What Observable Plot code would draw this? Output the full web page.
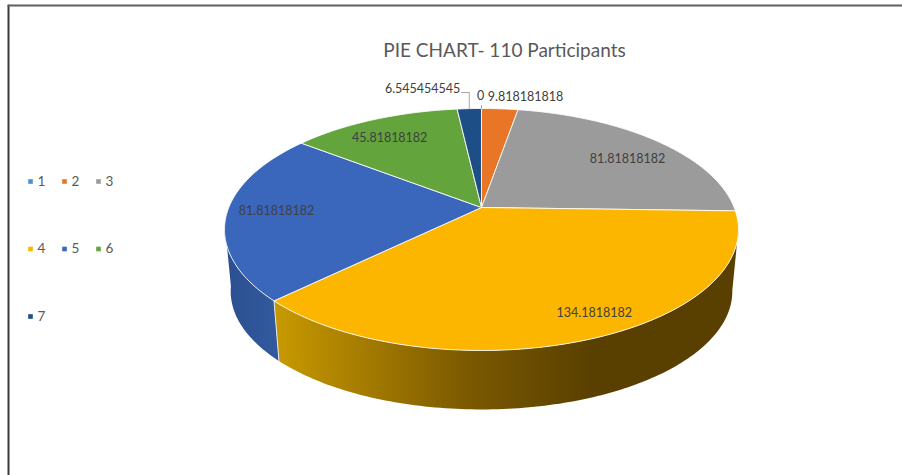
<!DOCTYPE html>
<html>
<head>
<meta charset="utf-8">
<script src="https://cdn.jsdelivr.net/npm/d3@7"></script>
<script src="https://cdn.jsdelivr.net/npm/@observablehq/plot@0.6"></script>
<style>html,body{margin:0;padding:0;background:#fff}svg{display:block}</style>
</head>
<body>
<div id="chart"></div>
<script>
// Data
const categories = ["1", "2", "3", "4", "5", "6", "7"];
const values = [0, 9.818181818, 81.81818182, 134.1818182, 81.81818182, 45.81818182, 6.545454545];
const labels = ["0", "9.818181818", "81.81818182", "134.1818182", "81.81818182", "45.81818182", "6.545454545"];
const colors = ["#4a90d0", "#e97527", "#9b9b9b", "#fdb600", "#3a66bb", "#63a43d", "#1d4e85"];
const labelAngle = [359.8, 10.4, 54.6, 153.6, 267.6, 328.7, 347.1];
const labelRadius = [1.147, 1.165, 0.766, 0.862, 0.807, 0.785, 1.28];
const titleText = "PIE CHART- 110 Participants";

// Perspective model of the disc
const cx = 481, cy = 207, A = 252.7, B = 117, k = 0.1818, drop = 62.4, shrink = 0.976;
const sideFrom = 100, sideTo = 262; // the part of the rim that faces the viewer
const project = (deg, r = 1, bottom = false) => {
  const t = deg * Math.PI / 180;
  const w = 1 + k * r * Math.cos(t);
  const s = bottom ? shrink : 1;
  return {
    x: cx + s * A * r * Math.sin(t) / w,
    y: cy + (bottom ? drop : 0) - s * B * r * Math.cos(t) / w
  };
};

// Slices from the values, clockwise from twelve o'clock
const total = d3.sum(values);
let acc = 0;
const slices = categories.map((c, i) => {
  const start = acc / total * 360;
  acc += values[i];
  return {c, i, start, end: acc / total * 360, color: colors[i], label: labels[i]};
});
const arc = (s, e, r, bottom) => {
  const n = Math.max(1, Math.ceil(e - s));
  return d3.range(n + 1).map(j => project(s + (e - s) * j / n, r, bottom));
};
const topPoly = s => [project(0, 0), ...arc(s.start, s.end, 1, false), project(0, 0)];
const wallPoly = s => {
  const a = Math.max(s.start, sideFrom), b = Math.min(s.end, sideTo);
  return [...arc(a, b, 1, false), ...arc(a, b, 1, true).reverse()];
};
const wallFill = {3: "url(#wallYellow)", 4: "url(#wallBlue)"};

const defs = () => {
  const ns = "http://www.w3.org/2000/svg";
  const d = document.createElementNS(ns, "defs");
  const grad = (id, x1, x2, stops) => {
    const g = document.createElementNS(ns, "linearGradient");
    g.setAttribute("id", id);
    g.setAttribute("gradientUnits", "userSpaceOnUse");
    g.setAttribute("x1", x1); g.setAttribute("x2", x2);
    g.setAttribute("y1", 0); g.setAttribute("y2", 0);
    stops.forEach(([o, c]) => {
      const st = document.createElementNS(ns, "stop");
      st.setAttribute("offset", o); st.setAttribute("stop-color", c);
      g.appendChild(st);
    });
    d.appendChild(g);
  };
  grad("wallYellow", 273, 590, [[0, "#c99a00"], [0.6, "#7c5a00"], [1, "#5a4000"]]);
  grad("wallBlue", 225, 280, [[0, "#2b5090"], [1, "#325a9f"]]);
  return d;
};

const sideSlices = slices.filter(s => s.i === 3 || s.i === 4);
const labelRows = slices.map(s => ({...project(labelAngle[s.i], labelRadius[s.i]), label: s.label}));

// Legend layout: three columns, rows top to bottom
const legendRows = categories.map((c, i) => ({
  c,
  color: colors[i],
  x: 30 + (i % 3) * 34,
  y: 181 + Math.floor(i / 3) * 67.5
}));

// Leader lines
const navyMid = project((slices[6].start + slices[6].end) / 2);
const zeroEnd = project(0);
const navyLeader = [{x: 461, y: 92}, {x: navyMid.x, y: 92}, {x: navyMid.x, y: navyMid.y}];
const zeroLeader = [{x: zeroEnd.x, y: zeroEnd.y - 3}, {x: zeroEnd.x, y: zeroEnd.y}];

const font = "Lato, 'Open Sans', sans-serif";
const chart = Plot.plot({
  width: 902,
  height: 475,
  margin: 0,
  x: {domain: [0, 902], range: [0, 902], axis: null},
  y: {domain: [0, 475], range: [0, 475], axis: null},
  style: {fontFamily: font, background: "#fff"},
  marks: [
    defs,
    // picture frame
    Plot.line([{x: 8, y: 475}, {x: 8, y: 5}], {x: "x", y: "y", stroke: "#3a3a3a", strokeWidth: 2}),
    Plot.line([{x: 8, y: 5}, {x: 902, y: 5}], {x: "x", y: "y", stroke: "#5f5f5f", strokeWidth: 2}),
    // walls
    ...sideSlices.map(s => Plot.line(wallPoly(s), {x: "x", y: "y", fill: wallFill[s.i], stroke: "none"})),
    // seam between the walls
    Plot.line([project(slices[3].end), project(slices[3].end, 1, true)], {x: "x", y: "y", stroke: "#e8e8e8", strokeWidth: 1}),
    // top of the pie
    ...slices.filter(s => s.end > s.start).map(s =>
      Plot.line(topPoly(s), {x: "x", y: "y", fill: s.color, stroke: "#fff", strokeWidth: 1, strokeOpacity: 0.85})),
    // leaders
    Plot.line(navyLeader, {x: "x", y: "y", stroke: "#a6a6a6", strokeWidth: 1}),
    Plot.line(zeroLeader, {x: "x", y: "y", stroke: "#a6a6a6", strokeWidth: 1}),
    // data labels
    Plot.text(labelRows, {x: "x", y: "y", text: "label", fontSize: 12.5, fill: "#404040"}),
    // title
    Plot.text([titleText], {x: () => 504, y: () => 50, text: d => d, fontSize: 19, fill: "#595959"}),
    // legend
    Plot.dot(legendRows, {x: "x", y: "y", symbol: "square", r: 2.6, fill: "color"}),
    Plot.text(legendRows, {x: d => d.x + 7, y: "y", text: "c", textAnchor: "start", fontSize: 13.5, fill: "#595959"})
  ]
});
document.getElementById("chart").appendChild(chart);
</script>
</body>
</html>
